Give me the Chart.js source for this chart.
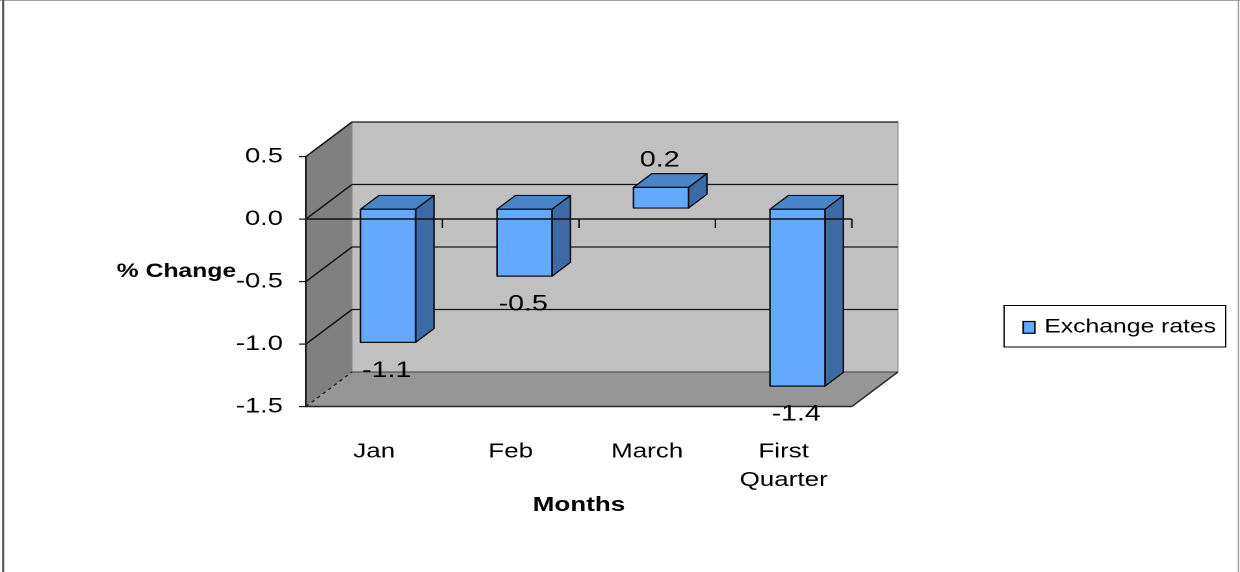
<!DOCTYPE html>
<html><head><meta charset="utf-8">
<script src="https://cdn.jsdelivr.net/npm/chart.js@4.4.1/dist/chart.umd.min.js"></script>
<style>
html,body{margin:0;padding:0;background:#fff;overflow:hidden;}
#wrap{position:absolute;left:0;top:0;width:954px;height:572px;transform:scaleX(1.29979);transform-origin:0 0;}
canvas{display:block;}
</style></head><body>
<div id="wrap"><canvas id="c" width="954" height="572"></canvas></div>
<script>
// ---- data ----
const categories = ['Jan', 'Feb', 'March', ['First', 'Quarter']];
const exchangeRates = [-1.07, -0.54, 0.17, -1.42];
const yTickValues = [0.5, 0.0, -0.5, -1.0, -1.5];
const seriesName = 'Exchange rates';
const xAxisTitle = 'Months';
const yAxisTitle = '% Change';

// ---- styling ----
const FONT = "'Liberation Sans', Arial, sans-serif";
const DX = 35.4, DY = -34.5;          // depth of the 3D box
const FRONT = 0.3, DEPTH = 0.4;       // bar position inside depth
const COL_FRONT = '#63aaff', COL_TOP = '#4a84c9', COL_SIDE = '#3d6ba6';

function poly(ctx, pts, fill, stroke, lw) {
  ctx.beginPath();
  ctx.moveTo(pts[0][0], pts[0][1]);
  for (let i = 1; i < pts.length; i++) ctx.lineTo(pts[i][0], pts[i][1]);
  ctx.closePath();
  if (fill) { ctx.fillStyle = fill; ctx.fill(); }
  if (stroke) { ctx.strokeStyle = stroke; ctx.lineWidth = lw || 1; ctx.stroke(); }
}
function seg(ctx, x1, y1, x2, y2) {
  ctx.beginPath(); ctx.moveTo(x1, y1); ctx.lineTo(x2, y2); ctx.stroke();
}

const threeD = {
  id: 'threeD',
  beforeDraw(chart) {
    const ctx = chart.ctx;
    const {left: L, right: R, top: T, bottom: B} = chart.chartArea;
    const ys = chart.scales.y;
    ctx.save();
    // back wall
    poly(ctx, [[L + DX, T + DY], [R + DX, T + DY], [R + DX, B + DY], [L + DX, B + DY]], '#c0c0c0', '#9a9a9a', 1);
    // side wall
    poly(ctx, [[L, T], [L + DX, T + DY], [L + DX, B + DY], [L, B]], '#808080');
    // floor
    poly(ctx, [[L, B], [R, B], [R + DX, B + DY], [L + DX, B + DY]], '#969696');
    // gridlines
    ctx.strokeStyle = '#151515'; ctx.lineWidth = 1.3;
    ys.ticks.forEach(t => {
      if (t.value === ys.min) return;
      const py = ys.getPixelForValue(t.value);
      seg(ctx, L, py, L + DX, py + DY);
      seg(ctx, L + DX, py + DY, R + DX, py + DY);
    });
    // floor edges
    ctx.strokeStyle = '#555'; ctx.lineWidth = 1.3;
    seg(ctx, L + DX, B + DY, R + DX, B + DY);
    ctx.strokeStyle = '#2a2a2a';
    seg(ctx, R, B, R + DX, B + DY);
    ctx.setLineDash([3, 3]);
    seg(ctx, L, B, L + DX, B + DY);
    ctx.setLineDash([]);
    ctx.lineWidth = 1.6; ctx.strokeStyle = '#222';
    seg(ctx, L, B, R, B);
    ctx.restore();
  },
  beforeDatasetDraw() { return false; },
  afterDatasetsDraw(chart) {
    const ctx = chart.ctx;
    const {left: L, right: R} = chart.chartArea;
    const ys = chart.scales.y, xs = chart.scales.x;
    const meta = chart.getDatasetMeta(0);
    const fx = FRONT * DX, fy = FRONT * DY, bx = DEPTH * DX, by = DEPTH * DY;
    ctx.save();
    ctx.lineJoin = 'round';
    const boxes = [];
    meta.data.forEach((el, i) => {
      const p = el.getProps(['x', 'y', 'base', 'width'], true);
      const xl = p.x - p.width / 2 + fx, xr = p.x + p.width / 2 + fx;
      const top = Math.min(p.y, p.base) + fy, bot = Math.max(p.y, p.base) + fy;
      poly(ctx, [[xr, top], [xr + bx, top + by], [xr + bx, bot + by], [xr, bot]], COL_SIDE, '#0d0d0d', 1.2);
      poly(ctx, [[xl, top], [xl + bx, top + by], [xr + bx, top + by], [xr, top]], COL_TOP, '#0d0d0d', 1.2);
      poly(ctx, [[xl, top], [xr, top], [xr, bot], [xl, bot]], COL_FRONT, '#0d0d0d', 1.2);
      boxes.push({cx: (xl + xr) / 2, top, bot, v: exchangeRates[i]});
    });
    // zero axis line with category tick marks
    const y0 = ys.getPixelForValue(0);
    ctx.strokeStyle = '#111'; ctx.lineWidth = 1.5;
    seg(ctx, L, y0, R, y0);
    ctx.lineWidth = 1.2;
    const n = categories.length, cw = (R - L) / n;
    for (let i = 1; i <= n; i++) seg(ctx, L + i * cw, y0, L + i * cw, y0 + 9);
    // data labels
    ctx.fillStyle = '#000';
    ctx.font = '22px ' + FONT;
    ctx.textAlign = 'center'; ctx.textBaseline = 'middle';
    boxes.forEach(b => {
      const ty = b.v < 0 ? b.bot + 28.5 : b.top - 27;
      ctx.fillText(b.v.toFixed(1), b.cx - 1, ty);
    });
    ctx.restore();
  },
  afterDraw(chart) {
    const ctx = chart.ctx;
    ctx.save();
    // y axis title (horizontal)
    ctx.fillStyle = '#000';
    ctx.font = 'bold 19px ' + FONT;
    ctx.textAlign = 'left'; ctx.textBaseline = 'middle';
    ctx.fillText(yAxisTitle, 89.8, 272);
    // legend
    ctx.strokeStyle = '#000'; ctx.lineWidth = 1;
    ctx.strokeRect(772.5, 305.5, 170.5, 41.5);
    ctx.fillStyle = COL_FRONT;
    ctx.fillRect(787.2, 321.5, 9, 11.8);
    ctx.strokeStyle = '#000'; ctx.lineWidth = 1.2;
    ctx.strokeRect(787.2, 321.5, 9, 11.8);
    ctx.fillStyle = '#000';
    ctx.font = '19px ' + FONT;
    ctx.fillText(chart.data.datasets[0].label, 803.5, 327.5);
    // chart frame
    ctx.strokeStyle = '#a0a0a0'; ctx.lineWidth = 1;
    seg(ctx, 0, 0.5, 954, 0.5);
    ctx.strokeStyle = '#9a9a9a';
    seg(ctx, 952.8, 0, 952.8, 572);
    ctx.strokeStyle = '#555'; ctx.lineWidth = 1.6;
    seg(ctx, 2.4, 0, 2.4, 572);
    ctx.restore();
  }
};

new Chart(document.getElementById('c'), {
  type: 'bar',
  data: {
    labels: categories,
    datasets: [{
      label: seriesName,
      data: exchangeRates,
      backgroundColor: COL_FRONT,
      categoryPercentage: 1,
      barPercentage: 0.403
    }]
  },
  options: {
    responsive: false,
    devicePixelRatio: 2,
    animation: false,
    layout: {padding: {left: 0, top: 156.5, right: 298.6, bottom: 52}},
    plugins: {legend: {display: false}, tooltip: {enabled: false}},
    scales: {
      x: {
        grid: {display: false, drawTicks: false},
        border: {display: false},
        ticks: {color: '#000', padding: 31, font: {family: FONT, size: 20, lineHeight: 1.425}, maxRotation: 0},
        title: {display: true, text: xAxisTitle, color: '#000', padding: {top: 0, bottom: 2.5},
                font: {family: FONT, size: 20, weight: 'bold'}},
        afterFit(s) { s.height = 113.5; }
      },
      y: {
        min: -1.5, max: 0.5,
        afterBuildTicks(s) { s.ticks = yTickValues.map(v => ({value: v})); },
        grid: {display: true, drawOnChartArea: false, drawTicks: true, tickLength: 5.4, color: '#1a1a1a', lineWidth: 1.2},
        border: {display: true, color: '#1a1a1a', width: 1.4},
        ticks: {color: '#000', padding: 12.3, font: {family: FONT, size: 21},
                callback: v => Number(v).toFixed(1)},
        afterFit(s) { s.width = 235.4; }
      }
    }
  },
  plugins: [threeD]
});
</script>
</body></html>
